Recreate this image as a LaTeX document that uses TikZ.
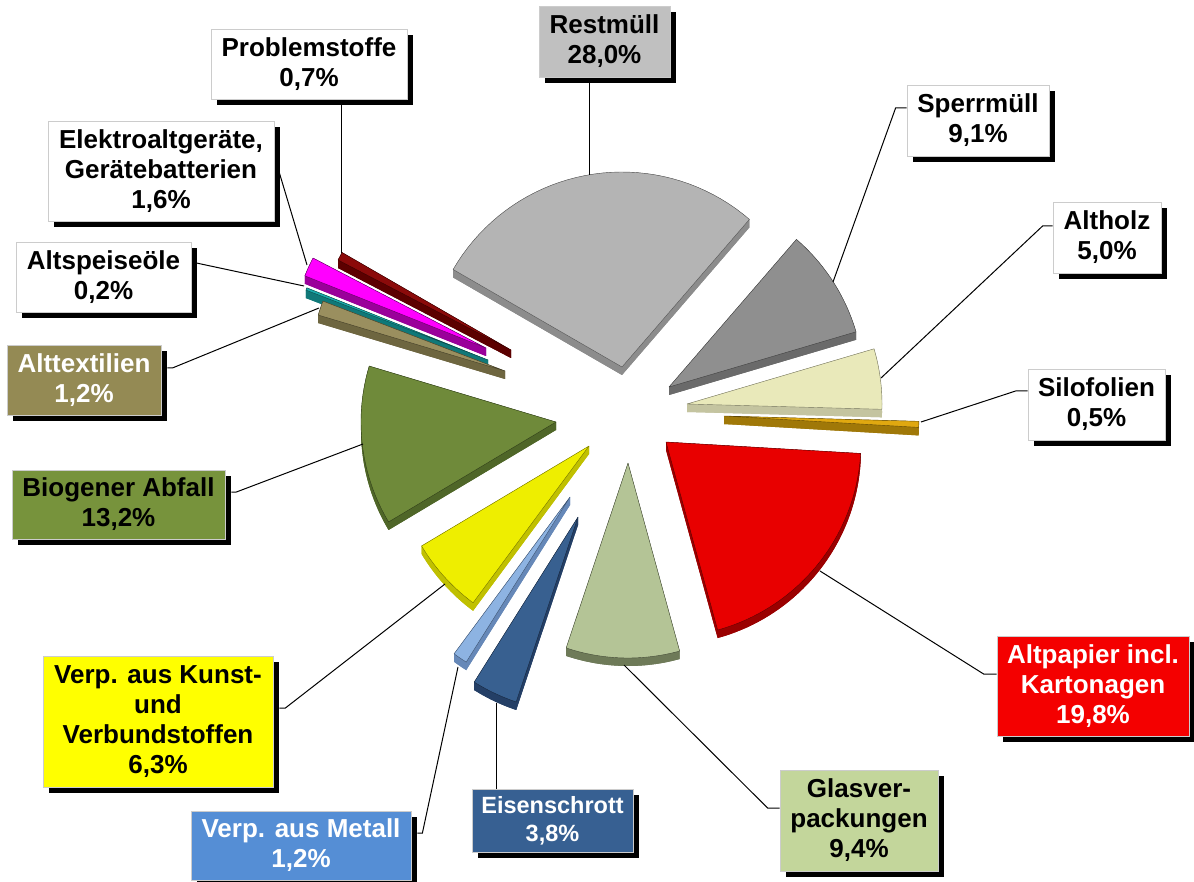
\documentclass[tikz,border=0pt]{standalone}
\usepackage{fontspec}
\setmainfont{Liberation Sans}
\usetikzlibrary{shadows,calc}
\definecolor{restTop}{HTML}{B4B4B4}\definecolor{restSide}{HTML}{8C8C8C}
\definecolor{sperrTop}{HTML}{8F8F8F}\definecolor{sperrSide}{HTML}{6A6A6A}
\definecolor{holzTop}{HTML}{E9E9BA}\definecolor{holzSide}{HTML}{C4C4A0}
\definecolor{siloTop}{HTML}{E0A810}\definecolor{siloSide}{HTML}{A07808}
\definecolor{papTop}{HTML}{E80000}\definecolor{papSide}{HTML}{9A0000}
\definecolor{glasTop}{HTML}{B4C496}\definecolor{glasSide}{HTML}{6E7A58}
\definecolor{eisenTop}{HTML}{386090}\definecolor{eisenSide}{HTML}{243F66}
\definecolor{metTop}{HTML}{8DB3E2}\definecolor{metSide}{HTML}{6688B8}
\definecolor{kunstTop}{HTML}{EEEE00}\definecolor{kunstSide}{HTML}{C0C000}
\definecolor{bioTop}{HTML}{6F8A3A}\definecolor{bioSide}{HTML}{4F6628}
\definecolor{textTop}{HTML}{9A8F5F}\definecolor{textSide}{HTML}{6E6640}
\definecolor{speiseTop}{HTML}{1AABAB}\definecolor{speiseSide}{HTML}{107878}
\definecolor{elekTop}{HTML}{FF00FF}\definecolor{elekSide}{HTML}{9A009A}
\definecolor{probTop}{HTML}{8B0A0A}\definecolor{probSide}{HTML}{5C0000}
\definecolor{boxRest}{HTML}{C0C0C0}\definecolor{boxText}{HTML}{948A54}
\definecolor{boxBio}{HTML}{77933C}\definecolor{boxKunst}{HTML}{FFFF00}
\definecolor{boxMet}{HTML}{558ED5}\definecolor{boxEisen}{HTML}{376092}
\definecolor{boxGlas}{HTML}{C3D69B}\definecolor{boxPap}{HTML}{F40000}
% #1 apex x, #2 apex y, #3 start angle, #4 end angle, #5 top colour, #6 side colour
\newcommand\wedgeslice[6]{%
  \begin{scope}[line join=round]
  % extruded side: shifted slice plus bands along its three edges
  \fill[#6] (#1,#2+8) -- plot[domain=#3:#4,samples=40] ({#1+195*cos(\x)},{#2+8-195*sin(\x)}) -- cycle;
  \fill[#6] plot[domain=#3:#4,samples=40] ({#1+195*cos(\x)},{#2-195*sin(\x)}) --
            plot[domain=#4:#3,samples=40] ({#1+195*cos(\x)},{#2+8-195*sin(\x)}) -- cycle;
  \fill[#6] (#1,#2) -- ({#1+195*cos(#3)},{#2-195*sin(#3)}) -- ({#1+195*cos(#3)},{#2+8-195*sin(#3)}) -- (#1,#2+8) -- cycle;
  \fill[#6] (#1,#2) -- ({#1+195*cos(#4)},{#2-195*sin(#4)}) -- ({#1+195*cos(#4)},{#2+8-195*sin(#4)}) -- (#1,#2+8) -- cycle;
  % top face
  \fill[#5] (#1,#2) -- plot[domain=#3:#4,samples=40] ({#1+195*cos(\x)},{#2-195*sin(\x)}) -- cycle;
  \draw[#6!60!black,line width=0.4pt] (#1,#2) -- plot[domain=#3:#4,samples=40] ({#1+195*cos(\x)},{#2-195*sin(\x)}) -- cycle;
  \end{scope}
}
\tikzset{
  lbl/.style={draw=black!20,line width=0.8pt,fill=white,inner sep=0pt,align=center,
    font=\bfseries\fontsize{26}{30}\selectfont,
    drop shadow={shadow xshift=6pt,shadow yshift=-6pt,fill=black,opacity=1}},
  lead/.style={draw=black,line width=1pt}
}
\begin{document}
\begin{tikzpicture}[x=1pt,y=-1pt]
\useasboundingbox[fill=white] (0,0) rectangle (1194,882);
% slices
\wedgeslice{622}{367}{49.2}{150}{restTop}{restSide}
\wedgeslice{511}{350}{150}{152.52}{probTop}{probSide}
\wedgeslice{486}{348}{152.52}{158.28}{elekTop}{elekSide}
\wedgeslice{488}{360}{158.28}{159}{speiseTop}{speiseSide}
\wedgeslice{505}{371}{159}{163.32}{textTop}{textSide}
\wedgeslice{669}{387}{16.44}{49.2}{sperrTop}{sperrSide}
\wedgeslice{687}{404}{358.44}{376.44}{holzTop}{holzSide}
\wedgeslice{724}{416}{356.64}{358.44}{siloTop}{siloSide}
\wedgeslice{556}{422}{163.32}{210.84}{bioTop}{bioSide}
\wedgeslice{666}{442}{285.36}{356.64}{papTop}{papSide}
\wedgeslice{589}{446}{210.84}{233.52}{kunstTop}{kunstSide}
\wedgeslice{628}{463}{251.52}{285.36}{glasTop}{glasSide}
\wedgeslice{570}{497}{233.52}{237.84}{metTop}{metSide}
\wedgeslice{578}{517}{237.84}{251.52}{eisenTop}{eisenSide}
% labels
\node[lbl,fill=boxRest,minimum width=131,minimum height=71] (lRest) at (604.5,41.5) {Restmüll\\28,0\%};
\node[lbl,minimum width=196,minimum height=70] (lProb) at (309,64) {Problemstoffe\\0,7\%};
\node[lbl,minimum width=226,minimum height=100] (lElek) at (161,171) {Elektroaltgeräte,\\Gerätebatterien\\1,6\%};
\node[lbl,minimum width=175,minimum height=70] (lSpeise) at (103.5,277) {Altspeiseöle\\0,2\%};
\node[lbl,fill=boxText,text=white,minimum width=154,minimum height=70] (lText) at (84,380) {Alttextilien\\1,2\%};
\node[lbl,fill=boxBio,minimum width=213,minimum height=69] (lBio) at (118.5,504.5) {Biogener Abfall\\13,2\%};
\node[lbl,fill=boxKunst,minimum width=230,minimum height=131] (lKunst) at (158,721.5) {Verp. aus Kunst-\\und\\Verbundstoffen\\6,3\%};
\node[lbl,fill=boxMet,text=white,minimum width=220,minimum height=69] (lMet) at (301,845.5) {Verp. aus Metall\\1,2\%};
\node[lbl,fill=boxEisen,text=white,minimum width=161,minimum height=63,font=\bfseries\fontsize{23.5}{28}\selectfont] (lEisen) at (552.5,820.5) {Eisenschrott\\3,8\%};
\node[lbl,fill=boxGlas,minimum width=158,minimum height=101] (lGlas) at (859,820.5) {Glasver-\\packungen\\9,4\%};
\node[lbl,fill=boxPap,text=white,minimum width=192,minimum height=100] (lPap) at (1093,686) {Altpapier incl.\\Kartonagen\\19,8\%};
\node[lbl,minimum width=137,minimum height=71] (lSilo) at (1096.5,404.5) {Silofolien\\0,5\%};
\node[lbl,minimum width=108,minimum height=71] (lHolz) at (1107,237.5) {Altholz\\5,0\%};
\node[lbl,minimum width=142,minimum height=71] (lSperr) at (978,120.5) {Sperrmüll\\9,1\%};
% leader end points on slices
\coordinate (pRest) at (589,175);
\coordinate (pSperr) at (833,282);
\coordinate (pHolz) at (881,378);
\coordinate (pSilo) at (921,422);
\coordinate (pPap) at (820,571);
\coordinate (pGlas) at (624,665);
\coordinate (pEisen) at (496,703);
\coordinate (pMet) at (458,667);
\coordinate (pKunst) at (445,584);
\coordinate (pBio) at (363,444);
\coordinate (pText) at (319,308);
\coordinate (pSpeise) at (304,286);
\coordinate (pElek) at (307,265);
\coordinate (pProb) at (341,253);
% leaders
\draw[lead] ([xshift=-15.5pt,yshift=-6pt]lRest.south) -- (pRest);
\draw[lead] ([yshift=12.5pt]lSperr.west) -- ++(-11,0) -- (pSperr);
\draw[lead] ([yshift=11.5pt]lHolz.west) -- ++(-10,0) -- (pHolz);
\draw[lead] ([yshift=13.5pt]lSilo.west) -- ++(-12,0) -- (pSilo);
\draw[lead] ([yshift=12pt]lPap.west) -- ++(-13,0) -- (pPap);
\draw[lead] ([yshift=12.5pt]lGlas.west) -- ++(-12,0) -- (pGlas);
\draw[lead] ([xshift=-56.5pt]lEisen.north) -- (pEisen);
\draw[lead] ([xshift=6pt,yshift=12.5pt]lMet.east) -- ++(5,0) -- (pMet);
\draw[lead] ([xshift=6pt,yshift=13.5pt]lKunst.east) -- ++(6,0) -- (pKunst);
\draw[lead] ([xshift=6pt,yshift=12.5pt]lBio.east) -- ++(5,0) -- (pBio);
\draw[lead] ([xshift=6pt,yshift=12pt]lText.east) -- ++(5,0) -- (pText);
\draw[lead] ([xshift=5pt,yshift=14pt]lSpeise.east) -- (pSpeise);
\draw[lead] ([xshift=5pt,yshift=-2pt]lElek.east) -- (pElek);
\draw[lead] ([xshift=32pt,yshift=-6pt]lProb.south) -- (pProb);
\end{tikzpicture}
\end{document}
